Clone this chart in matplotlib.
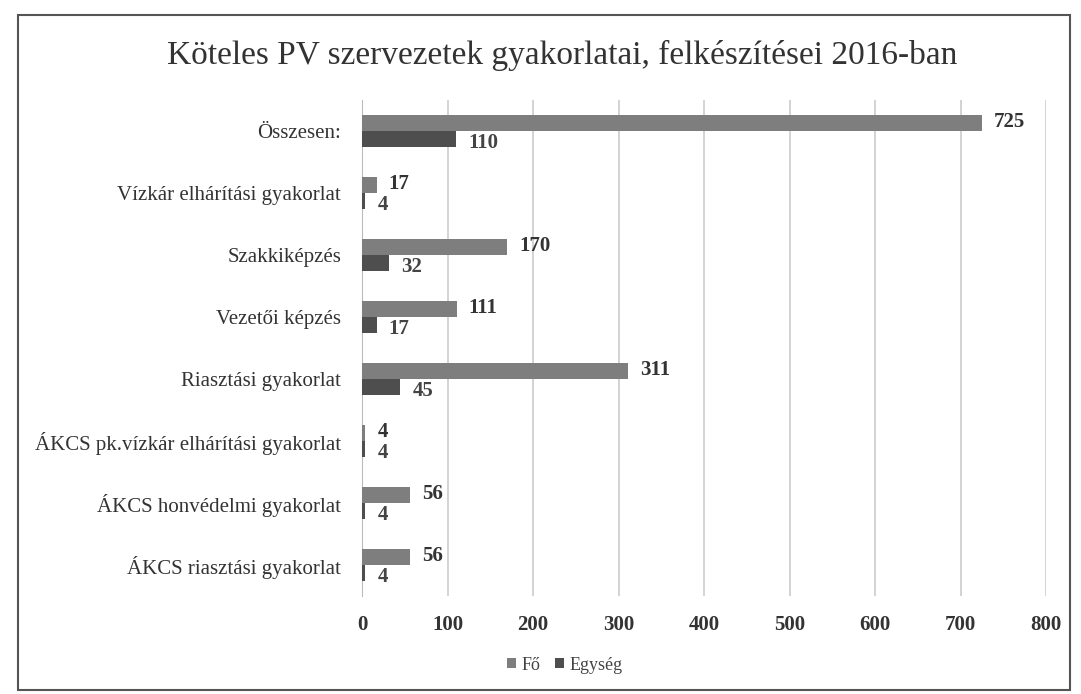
import matplotlib
matplotlib.use("Agg")
import matplotlib.pyplot as plt
from matplotlib.patches import Rectangle
import numpy as np

categories = ["Összesen:", "Vízkár elhárítási gyakorlat", "Szakkiképzés", "Vezetői képzés",
              "Riasztási gyakorlat", "ÁKCS pk.vízkár elhárítási gyakorlat",
              "ÁKCS honvédelmi gyakorlat", "ÁKCS riasztási gyakorlat"]
fo = [725, 17, 170, 111, 311, 4, 56, 56]
egyseg = [110, 4, 32, 17, 45, 4, 4, 4]
xticks = [0, 100, 200, 300, 400, 500, 600, 700, 800]

plt.rcParams['font.family'] = ['Liberation Serif', 'DejaVu Serif']

W, H = 1081, 694
fig = plt.figure(figsize=(W/100, H/100), dpi=100)
fig.patch.set_facecolor('white')
fig.add_artist(Rectangle((18/W, 1-690/H), (1070-18)/W, (690-15)/H, transform=fig.transFigure,
                         fill=False, edgecolor='#555555', linewidth=1.5))

ax = fig.add_axes([362/W, 1-596/H, (1046-362)/W, (596-100)/H])
n = len(categories)
y = np.arange(n)
h = 0.26
c_fo = '#7e7e7e'
c_eg = '#4e4e4e'
ax.barh(y - h/2, fo, height=h, color=c_fo, label='Fő', zorder=3)
ax.barh(y + h/2, egyseg, height=h, color=c_eg, label='Egység', zorder=3)
for i in range(n):
    ax.text(fo[i] + 14, y[i] - h/2 - 0.02, str(fo[i]), va='center', ha='left', fontsize=15,
            fontweight='bold', color='#333333')
    ax.text(egyseg[i] + 14, y[i] + h/2 + 0.06, str(egyseg[i]), va='center', ha='left', fontsize=15,
            fontweight='bold', color='#444444')

ax.set_ylim(n - 0.5, -0.5)
ax.set_xlim(0, 800)
ax.set_yticks(y)
ax.set_yticklabels(categories, fontsize=15, color='#333333')
ax.set_xticks(xticks)
ax.set_xticklabels([str(t) for t in xticks], fontsize=15, fontweight='bold', color='#333333')
ax.tick_params(axis='both', length=0)
ax.tick_params(axis='x', pad=14)
ax.tick_params(axis='y', pad=15)
ax.grid(axis='x', color='#cccccc', linewidth=1.2, zorder=0)
for s in ['top', 'right', 'bottom']:
    ax.spines[s].set_visible(False)
ax.spines['left'].set_color('#bbbbbb')

fig.text(0.52, 1-55/H, "Köteles PV szervezetek gyakorlatai, felkészítései 2016-ban",
         ha='center', va='center', fontsize=24, color='#333333')

leg = fig.legend(loc='center', bbox_to_anchor=(565/W, 1-665/H), ncol=2, frameon=False,
                 fontsize=13, handlelength=0.5, handleheight=0.5, columnspacing=0.8, handletextpad=0.3)
for t in leg.get_texts():
    t.set_color('#444444')

fig.savefig("out.png", dpi=100)
